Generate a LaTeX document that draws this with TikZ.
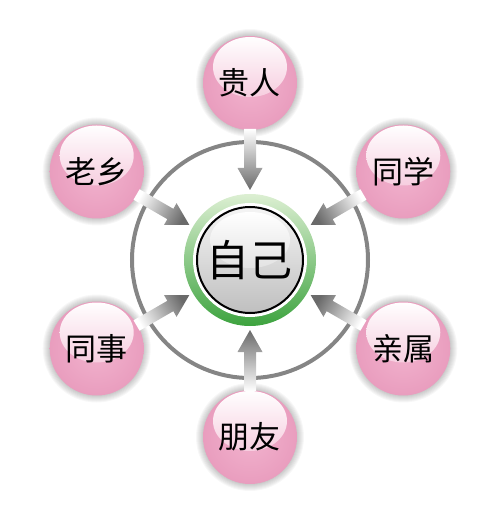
\documentclass[tikz,border=0pt]{standalone}
\usepackage{fontspec}
\newfontfamily\cjk{Noto Sans CJK SC}
\usepackage{tikz}
\usetikzlibrary{calc}
\definecolor{pinklight}{HTML}{F2B3CE}
\definecolor{pinkdark}{HTML}{E99DBE}
\definecolor{ringgray}{HTML}{858585}
\definecolor{arrowgray}{HTML}{6A6A6A}
\definecolor{greenlight}{HTML}{DCEFD2}
\definecolor{greendark}{HTML}{3DA33F}
\tikzset{
  ball/.style={circle, inner sep=0pt, minimum size=94pt, inner color=pinklight, outer color=pinkdark,
    font=\cjk\fontsize{31}{31}\selectfont,
    path picture={\shade[top color=white, bottom color=pinklight]
      ([yshift=16pt]path picture bounding box.center) ellipse (37pt and 30pt);}},
  core/.style={circle, inner sep=0pt, minimum size=132pt, top color=greenlight, bottom color=greendark,
    font=\cjk\fontsize{43}{43}\selectfont,
    path picture={
      \fill[white] (path picture bounding box.center) circle (57pt);
      \shadedraw[top color=gray!8, bottom color=gray!50, draw=black, line width=2pt]
        (path picture bounding box.center) circle (53pt);
      \shade[top color=white, bottom color=gray!22]
        ([yshift=20pt]path picture bounding box.center) ellipse (40pt and 28pt);}},
  ringline/.style={draw=ringgray, line width=4pt},
  glow/.style={fill=black, opacity=0.03},
}

\begin{document}
\begin{tikzpicture}[x=1pt,y=1pt]
  \useasboundingbox (-250,-259) rectangle (250,260);
  \pgfmathsetmacro{\R}{177}
  % soft shadow round the pink balls
  \foreach \ang in {90,30,-30,-90,-150,150}
    \foreach \k in {1,...,8}
      \fill[glow] (\ang:\R) circle (46+\k);
  \draw[ringline] (0,0) circle (118);
  \node[core] (self) at (0,0) {自己};
  \foreach \ang/\nm/\txt in {90/guiren/贵人, 30/tongxue/同学, -30/qinshu/亲属,
                             -90/pengyou/朋友, -150/tongshi/同事, 150/laoxiang/老乡}{
    \node[ball] (\nm) at (\ang:\R) {\txt};
    \pgfmathsetmacro{\sa}{\ang-90}
    \coordinate (tip) at ($(self.center)!70pt!(\nm.center)$);
    \coordinate (base) at ($(self.center)!92pt!(\nm.center)$);
    \coordinate (tail) at ($(\nm.center)!46pt!(self.center)$);
    \shade[top color=white, middle color=arrowgray!65, bottom color=arrowgray, shading angle=\sa]
      (tip) -- ($(base)!12.5pt!90:(\nm.center)$) -- ($(base)!6pt!90:(\nm.center)$)
      -- ($(tail)!6pt!-90:(self.center)$) -- ($(tail)!6pt!90:(self.center)$)
      -- ($(base)!6pt!-90:(\nm.center)$) -- ($(base)!12.5pt!-90:(\nm.center)$) -- cycle;
  }
\end{tikzpicture}
\end{document}
